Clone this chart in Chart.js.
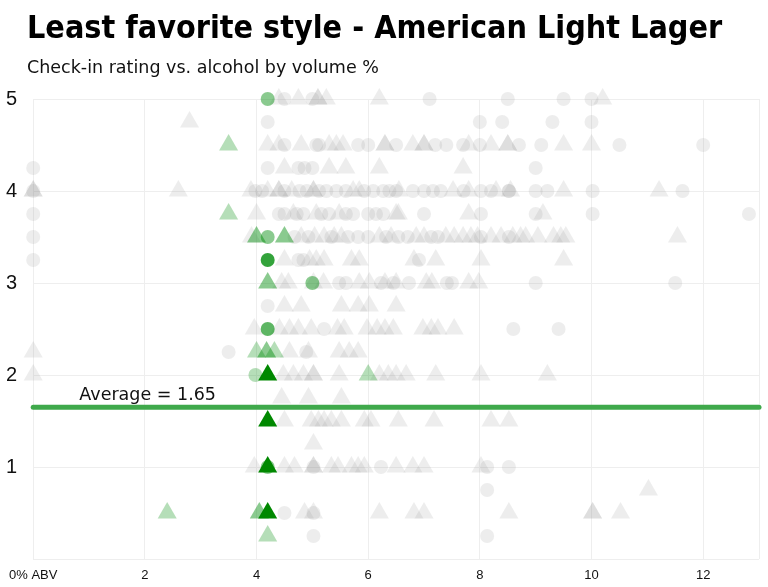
<!DOCTYPE html>
<html>
<head>
<meta charset="utf-8">
<script src="https://cdn.jsdelivr.net/npm/chart.js@4.4.0/dist/chart.umd.min.js"></script>
<style>
    html, body { margin: 0; padding: 0; background: #fff; }
</style>
</head>
<body>
<canvas id="chart" width="768" height="587"></canvas>
<script>
const titleText = "Least favorite style - American Light Lager";
const subtitleText = "Check-in rating vs. alcohol by volume %";
const averageLabel = "Average = 1.65";

const xTicks = [0, 2, 4, 6, 8, 10, 12];
const xMax = 13;
const yMax = 5;
const average = 1.65;

// [abv, rating]
const grayCircles = [
    [4.5, 5], [5.0, 5], [7.1, 5], [8.5, 5], [9.5, 5], [10.0, 5],
    [4.2, 4.75], [8.0, 4.75], [8.4, 4.75], [9.3, 4.75], [10.0, 4.75],
    [4.5, 4.5], [5.07, 4.5], [5.12, 4.5], [5.82, 4.5], [6.0, 4.5], [6.5, 4.5], [7.2, 4.5], [7.4, 4.5],
    [7.7, 4.5], [8.0, 4.5], [8.7, 4.5], [9.1, 4.5], [10.5, 4.5], [12.0, 4.5],
    [0, 4.25], [4.2, 4.25], [4.75, 4.25], [4.86, 4.25], [5.0, 4.25], [9.0, 4.25],
    [0, 4], [3.98, 4], [4.1, 4], [4.5, 4], [4.77, 4], [4.9, 4], [5.12, 4], [5.25, 4], [5.43, 4],
    [5.6, 4], [5.93, 4], [6.09, 4], [6.27, 4], [6.38, 4], [6.5, 4], [6.8, 4], [7.0, 4], [7.16, 4],
    [7.3, 4], [7.71, 4], [8.02, 4], [8.2, 4], [8.52, 4], [8.52, 4], [9.0, 4], [9.21, 4], [10.02, 4], [11.63, 4],
    [0, 3.75], [4.4, 3.75], [4.5, 3.75], [4.72, 3.75], [4.84, 3.75], [5.16, 3.75], [5.3, 3.75], [5.6, 3.75],
    [5.73, 3.75], [6.0, 3.75], [6.14, 3.75], [6.27, 3.75], [7.0, 3.75], [8.02, 3.75], [9.0, 3.75],
    [10.02, 3.75], [12.82, 3.75],
    [0, 3.5], [4.68, 3.5], [4.93, 3.5], [5.34, 3.5], [5.64, 3.5], [5.82, 3.5], [6.0, 3.5], [6.32, 3.5],
    [6.54, 3.5], [6.71, 3.5], [7.13, 3.5], [7.25, 3.5], [8.02, 3.5], [8.52, 3.5],
    [0, 3.25], [4.75, 3.25], [4.84, 3.25], [6.91, 3.25],
    [5.48, 3], [5.6, 3], [6.23, 3], [6.45, 3], [6.73, 3], [7.41, 3], [7.5, 3], [9.0, 3], [11.5, 3],
    [4.2, 2.75],
    [5.21, 2.5], [8.6, 2.5], [9.41, 2.5],
    [3.5, 2.25], [4.89, 2.25],
    [5.02, 1], [6.23, 1], [8.13, 1], [8.52, 1],
    [8.13, 0.75],
    [4.5, 0.5], [5.02, 0.5],
    [5.02, 0.25], [8.13, 0.25]
];

const grayTriangles = [
    [4.4, 5], [4.75, 5], [5.1, 5], [5.1, 5], [5.25, 5], [6.2, 5], [10.2, 5],
    [2.8, 4.75],
    [4.2, 4.5], [4.4, 4.5], [4.8, 4.5], [5.3, 4.5], [5.43, 4.5], [5.55, 4.5], [6.3, 4.5], [6.3, 4.5],
    [6.8, 4.5], [7.0, 4.5], [7.0, 4.5], [7.8, 4.5], [8.2, 4.5], [8.5, 4.5], [8.5, 4.5], [9.5, 4.5], [10.0, 4.5],
    [4.5, 4.25], [5.3, 4.25], [5.6, 4.25], [6.2, 4.25], [7.7, 4.25],
    [0, 4], [0, 4], [2.6, 4], [3.9, 4], [4.2, 4], [4.4, 4], [4.4, 4], [4.63, 4], [5.02, 4], [5.02, 4],
    [5.73, 4], [5.84, 4], [6.55, 4], [7.52, 4], [7.8, 4], [8.29, 4], [8.55, 4], [9.5, 4], [11.21, 4],
    [4.0, 3.75], [4.66, 3.75], [5.07, 3.75], [5.48, 3.75], [6.5, 3.75], [6.54, 3.75], [7.8, 3.75], [9.13, 3.75],
    [3.91, 3.5], [4.8, 3.5], [5.04, 3.5], [5.21, 3.5], [5.39, 3.5], [5.52, 3.5], [6.2, 3.5], [6.41, 3.5],
    [6.86, 3.5], [7.0, 3.5], [7.39, 3.5], [7.54, 3.5], [7.7, 3.5], [7.84, 3.5], [7.96, 3.5], [8.2, 3.5],
    [8.38, 3.5], [8.59, 3.5], [8.73, 3.5], [8.82, 3.5], [9.04, 3.5], [9.32, 3.5], [9.45, 3.5], [9.54, 3.5], [11.54, 3.5],
    [4.5, 3.25], [4.95, 3.25], [5.07, 3.25], [5.21, 3.25], [5.7, 3.25], [5.84, 3.25], [6.82, 3.25], [7.21, 3.25],
    [8.02, 3.25], [9.5, 3.25],
    [4.45, 3], [4.57, 3], [5.02, 3], [5.2, 3], [5.84, 3], [6.02, 3], [6.3, 3], [6.5, 3], [7.04, 3], [7.14, 3],
    [7.8, 3], [7.98, 3],
    [4.5, 2.75], [4.8, 2.75], [5.52, 2.75], [5.82, 2.75], [6.02, 2.75], [6.5, 2.75],
    [3.96, 2.5], [4.41, 2.5], [4.59, 2.5], [4.75, 2.5], [4.98, 2.5], [5.45, 2.5], [5.57, 2.5], [5.98, 2.5],
    [6.16, 2.5], [6.3, 2.5], [6.45, 2.5], [6.98, 2.5], [7.13, 2.5], [7.25, 2.5], [7.54, 2.5],
    [0, 2.25], [4.59, 2.25], [4.93, 2.25], [5.48, 2.25], [5.66, 2.25], [5.82, 2.25],
    [0, 2], [4.48, 2], [4.66, 2], [4.84, 2], [5.02, 2], [5.02, 2], [5.48, 2], [6.2, 2], [6.36, 2], [6.5, 2],
    [6.68, 2], [7.21, 2], [8.02, 2], [9.21, 2],
    [4.45, 1.75], [4.93, 1.75], [5.52, 1.75],
    [4.5, 1.5], [4.98, 1.5], [5.11, 1.5], [5.21, 1.5], [5.34, 1.5], [5.52, 1.5], [5.93, 1.5], [6.05, 1.5],
    [6.54, 1.5], [7.18, 1.5], [8.2, 1.5], [8.52, 1.5],
    [5.02, 1.25],
    [3.96, 1], [4.5, 1], [4.68, 1], [5.02, 1], [5.02, 1], [5.34, 1], [5.46, 1], [5.7, 1], [5.82, 1],
    [5.93, 1], [6.5, 1], [6.8, 1], [7.0, 1], [8.02, 1],
    [11.02, 0.75],
    [4.86, 0.5], [5.02, 0.5], [6.2, 0.5], [6.82, 0.5], [7.0, 0.5], [8.52, 0.5], [10.02, 0.5], [10.02, 0.5], [10.52, 0.5]
];

// [abv, rating, check-ins]
const greenCircles = [
    [4.2, 5, 2], [4.2, 3.5, 2], [4.2, 3.25, 4], [5.0, 3, 2], [4.2, 2.5, 3], [3.98, 2, 1], [4.2, 1, 2]
];

const greenTriangles = [
    [3.5, 4.5, 1], [3.5, 3.75, 1], [4.0, 3.5, 2], [4.5, 3.5, 2], [4.2, 3, 2],
    [4.0, 2.25, 1], [4.18, 2.25, 2], [4.32, 2.25, 1],
    [4.2, 2, 6], [6.0, 2, 1],
    [4.2, 1.5, 6], [4.2, 1, 6],
    [2.4, 0.5, 1], [4.05, 0.5, 2], [4.2, 0.5, 6], [4.2, 0.25, 1]
];

const FONT = "'DejaVu Sans', sans-serif";
const TICK_FONT = "'Liberation Sans', Arial, sans-serif";

const toPoints = arr => arr.map(p => ({x: p[0], y: p[1]}));
const greenShade = arr => arr.map(p => p[2] >= 5 ? "rgb(0, 136, 0)" : "rgba(0, 140, 10, " + (0.12 + 0.17 * p[2]) + ")");

// title + subtitle, drawn at the top left
const headerPlugin = {
    id: "header",
    beforeDraw(chart) {
        const ctx = chart.ctx;
        ctx.save();
        ctx.fillStyle = "#000";
        ctx.textAlign = "left";
        ctx.textBaseline = "alphabetic";
        ctx.font = "bold 32px 'DejaVu Sans Condensed', 'DejaVu Sans', sans-serif";
        ctx.fillText(titleText, 27, 38);
        ctx.fillStyle = "#111";
        ctx.font = "17.5px " + FONT;
        ctx.fillText(subtitleText, 27, 73);
        ctx.restore();
    }
};

// writes the average label just above the average line
const averageLabelPlugin = {
    id: "averageLabel",
    afterDatasetsDraw(chart) {
        const ctx = chart.ctx;
        const x = chart.scales.x.getPixelForValue(2.05);
        const y = chart.scales.y.getPixelForValue(average);
        ctx.save();
        ctx.font = "17.5px " + FONT;
        ctx.fillStyle = "#111";
        ctx.textAlign = "center";
        ctx.textBaseline = "alphabetic";
        ctx.fillText(averageLabel, x, y - 7);
        ctx.restore();
    }
};

new Chart(document.getElementById("chart"), {
    type: "scatter",
    data: {
        datasets: [
            {
                type: "line",
                data: [{x: 0, y: average}, {x: xMax, y: average}],
                borderColor: "#3fa94b",
                borderWidth: 5,
                borderCapStyle: "round",
                pointRadius: 0,
                clip: false
            },
            {
                data: toPoints(greenTriangles),
                pointStyle: "triangle",
                pointRadius: 11,
                backgroundColor: greenShade(greenTriangles),
                borderWidth: 0,
                clip: false
            },
            {
                data: toPoints(greenCircles),
                pointStyle: "circle",
                pointRadius: 7,
                backgroundColor: greenShade(greenCircles),
                borderWidth: 0,
                clip: false
            },
            {
                data: toPoints(grayTriangles),
                pointStyle: "triangle",
                pointRadius: 11,
                backgroundColor: "rgba(150, 150, 150, 0.17)",
                borderWidth: 0,
                clip: false
            },
            {
                data: toPoints(grayCircles),
                pointStyle: "circle",
                pointRadius: 7,
                backgroundColor: "rgba(150, 150, 150, 0.17)",
                borderWidth: 0,
                clip: false
            }
        ]
    },
    options: {
        responsive: false,
        animation: false,
        events: [],
        layout: {autoPadding: false, padding: {left: 0, right: 8, top: 99, bottom: 0}},
        plugins: {
            legend: {display: false},
            tooltip: {enabled: false}
        },
        scales: {
            x: {
                type: "linear",
                min: 0,
                max: xMax,
                afterBuildTicks: scale => {
                    scale.ticks = xTicks.concat([xMax]).map(v => ({value: v}));
                },
                afterFit: scale => { scale.height = 27; },
                ticks: {
                    color: "#111",
                    font: {family: TICK_FONT, size: 13},
                    padding: 9,
                    maxRotation: 0,
                    callback: v => v === 0 ? "0% ABV" : (v === xMax ? "" : v)
                },
                grid: {color: "#eeeeee", drawTicks: false},
                border: {display: false}
            },
            y: {
                min: 0,
                max: yMax,
                afterFit: scale => { scale.width = 31; },
                ticks: {
                    stepSize: 1,
                    color: "#111",
                    font: {family: TICK_FONT, size: 20},
                    padding: 16,
                    callback: v => v === 0 ? "" : v
                },
                grid: {color: "#eeeeee", drawTicks: false},
                border: {display: false}
            }
        }
    },
    plugins: [headerPlugin, averageLabelPlugin]
});
</script>
</body>
</html>
